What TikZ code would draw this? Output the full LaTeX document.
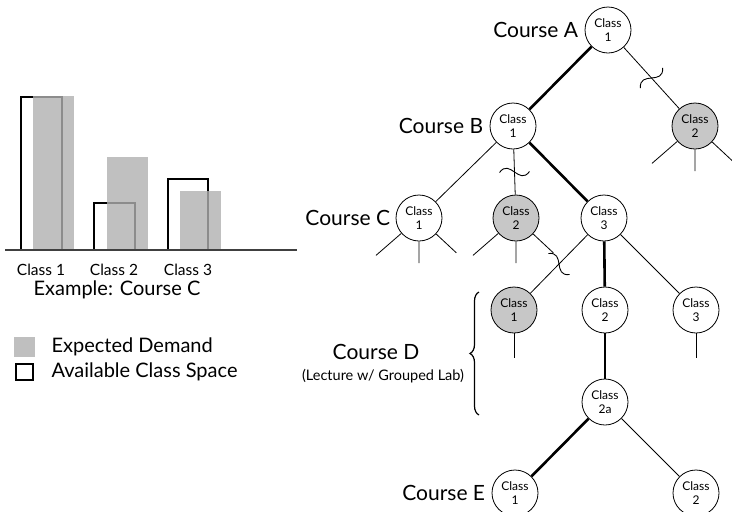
\documentclass[tikz,border=0pt]{standalone}
\usepackage{fontspec}
\setmainfont{Lato}
\usepackage{tikz}
\usetikzlibrary{positioning,decorations.pathreplacing,calc}

\begin{document}
\begin{tikzpicture}[
  x=1pt,y=-1pt,
  every node/.style={align=center},
  cls/.style={draw,circle,line width=0.8pt,minimum size=46pt,inner sep=0pt,
              fill=white,font=\fontsize{12}{13.5}\selectfont},
  full/.style={cls,fill=black!22},
  crs/.style={font=\fontsize{21}{23}\selectfont},
  lgd/.style={font=\fontsize{20}{22}\selectfont},
  link/.style={draw,line width=0.8pt},
  main/.style={draw,line width=2.6pt},
  stub/.style={draw,line width=0.8pt},
  brk/.pic={\draw[line width=0.9pt] (0,-15) .. controls (14,-4) and (-14,4) .. (0,15);},
  space/.style={draw,line width=2pt},
  demand/.style={fill=black!31,fill opacity=0.8},
  barlbl/.style={font=\fontsize{15.5}{17}\selectfont},
]
\useasboundingbox (0,0) rectangle (732,512);

% --- bar chart: available space (outline) and expected demand (grey)
\draw[space] (21,250) rectangle (62,97);
\draw[space] (94,250) rectangle (135,203);
\draw[space] (168,250) rectangle (208,179);
\fill[demand] (33,250) rectangle (74,96);
\fill[demand] (107,250) rectangle (148,157);
\fill[demand] (180,250) rectangle (221,191);
\coordinate (axl) at (5,250);
\coordinate (axr) at (297,250);
\draw[line width=1.2pt,black!75] (axl) -- (axr);

\node[barlbl] (bl1) at (41,270) {Class 1};
\node[barlbl] (bl2) at (114,270) {Class 2};
\node[barlbl] (bl3) at (188,270) {Class 3};
\node[lgd] (example) at (117,290) {Example: Course C};

% --- legend
\fill[black!25] (14,337) rectangle (35,357);
\draw[line width=1.6pt] (16,364) rectangle (33,380);
\node[lgd,anchor=west] (lgdemand) at (48,347) {Expected Demand};
\node[lgd,anchor=west] (lgspace)  at (48,372) {Available Class Space};

% --- tree of classes
\node[cls]  (a1)  at (608,30)  {Class\\1};
\node[full] (a2)  at (695,126) {Class\\2};
\node[cls]  (b1)  at (513,126) {Class\\1};
\node[cls]  (c1)  at (419,218) {Class\\1};
\node[full] (c2)  at (516,218) {Class\\2};
\node[cls]  (c3)  at (604,218) {Class\\3};
\node[full] (d1)  at (514,310) {Class\\1};
\node[cls]  (d2)  at (605,310) {Class\\2};
\node[cls]  (d3)  at (696,310) {Class\\3};
\node[cls]  (d2a) at (605,402) {Class\\2a};
\node[cls]  (e1)  at (515,493) {Class\\1};
\node[cls]  (e2)  at (696,493) {Class\\2};

% --- course labels
\node[crs,left=3pt of a1] (ca) {Course A};
\node[crs,left=3pt of b1] (cb) {Course B};
\node[crs,left=2pt of c1] (cc) {Course C};
\node[crs,left=3pt of e1] (ce) {Course E};
\node[crs] (cd) at (376,352) {Course D};
\node[font=\fontsize{14.5}{16}\selectfont] (cdsub) at (383,376)
     {(Lecture w/ Grouped Lab)};
\coordinate (brtop) at (479,292);
\coordinate (brbot) at (479,415);
\draw[decorate,decoration={brace,amplitude=9pt},line width=1.2pt] (brbot) -- (brtop);

% --- edges
\draw[main] (a1) -- (b1);
\draw[link] (a1) -- pic[pos=.5,sloped]{brk} (a2);
\draw[link] (b1) -- (c1);
\draw[link] (b1) -- pic[pos=.5,sloped]{brk} (c2);
\draw[main] (b1) -- (c3);
\draw[link] (c3) -- pic[pos=.5,sloped]{brk} (d1);
\draw[main] (c3) -- (d2);
\draw[link] (c3) -- (d3);
\draw[main] (d2) -- (d2a);
\draw[main] (d2a) -- (e1);
\draw[link] (d2a) -- (e2);

% --- open branches
\foreach \n in {a2,c1,c2}{
  \coordinate (\n-l) at ($(\n)+(139:57)$);
  \coordinate (\n-m) at ($(\n)+(90:45)$);
  \coordinate (\n-r) at ($(\n)+(43:51)$);
  \draw[stub] (\n) -- (\n-l) (\n) -- (\n-m) (\n) -- (\n-r);
}
\foreach \n in {d1,d3}{
  \coordinate (\n-m) at ($(\n)+(90:48)$);
  \draw[stub] (\n) -- (\n-m);
}
\end{tikzpicture}
\end{document}
